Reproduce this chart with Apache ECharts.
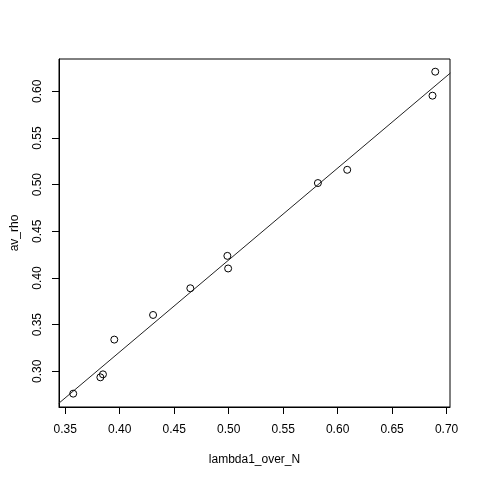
<!DOCTYPE html>
<html>
<head>
<meta charset="utf-8">
<script src="https://cdn.jsdelivr.net/npm/echarts@6/dist/echarts.min.js"></script>
<style>html,body{margin:0;padding:0;background:#fff}#c{width:480px;height:480px}</style>
</head>
<body>
<div id="c"></div>
<script>
var lambda1_over_N = [0.3573, 0.3822, 0.3846, 0.3950, 0.4306, 0.4648, 0.4988, 0.4995, 0.5819, 0.6088, 0.6871, 0.6896];
var av_rho = [0.2761, 0.2936, 0.2968, 0.3340, 0.3604, 0.3890, 0.4237, 0.4102, 0.5017, 0.5159, 0.5953, 0.6210];
var fitX = [0.3440, 0.7035];
var fitY = [0.2657, 0.6196];
var xTicks = [0.35, 0.40, 0.45, 0.50, 0.55, 0.60, 0.65, 0.70];
var yTicks = [0.30, 0.35, 0.40, 0.45, 0.50, 0.55, 0.60];

var pts = lambda1_over_N.map(function (x, i) { return [x, av_rho[i]]; });
var fit = fitX.map(function (x, i) { return [x, fitY[i]]; });
var font = 'Liberation Sans, Arial, sans-serif';

var chart = echarts.init(document.getElementById('c'), null, {renderer: 'canvas'});
chart.setOption({
  animation: false,
  backgroundColor: '#ffffff',
  grid: {left: 59, right: 30, top: 59, bottom: 73, show: true, borderColor: '#000', borderWidth: 1, backgroundColor: 'transparent'},
  xAxis: {
    type: 'value', min: 0.34425, max: 0.70315,
    name: 'lambda1_over_N', nameLocation: 'middle', nameGap: 47,
    nameTextStyle: {fontFamily: font, fontSize: 12, color: '#000'},
    axisLine: {show: true, lineStyle: {color: '#000', width: 1}},
    splitLine: {show: false},
    axisTick: {show: true, inside: false, length: 7, customValues: xTicks, lineStyle: {color: '#000', width: 1}},
    axisLabel: {customValues: xTicks, margin: 17, fontFamily: font, fontSize: 12, color: '#000',
      formatter: function (v) { return v.toFixed(2); }}
  },
  yAxis: {
    type: 'value', min: 0.2618, max: 0.6346,
    name: 'av_rho', nameLocation: 'middle', nameGap: 38, nameRotate: 90,
    nameTextStyle: {fontFamily: font, fontSize: 12, color: '#000'},
    axisLine: {show: true, lineStyle: {color: '#000', width: 1}},
    splitLine: {show: false},
    axisTick: {show: true, inside: false, length: 7, customValues: yTicks, lineStyle: {color: '#000', width: 1}},
    axisLabel: {customValues: yTicks, margin: 15, rotate: 90, fontFamily: font, fontSize: 12, color: '#000',
      formatter: function (v) { return v.toFixed(2); }}
  },
  series: [
    {type: 'line', data: fit, symbol: 'none', showSymbol: false, clip: true, lineStyle: {color: '#222', width: 1}, silent: true, z: 2},
    {type: 'scatter', data: pts, symbol: 'circle', symbolSize: 7, z: 3,
      itemStyle: {color: 'rgba(0,0,0,0)', borderColor: '#000', borderWidth: 1, opacity: 1}}
  ]
});
</script>
</body>
</html>
